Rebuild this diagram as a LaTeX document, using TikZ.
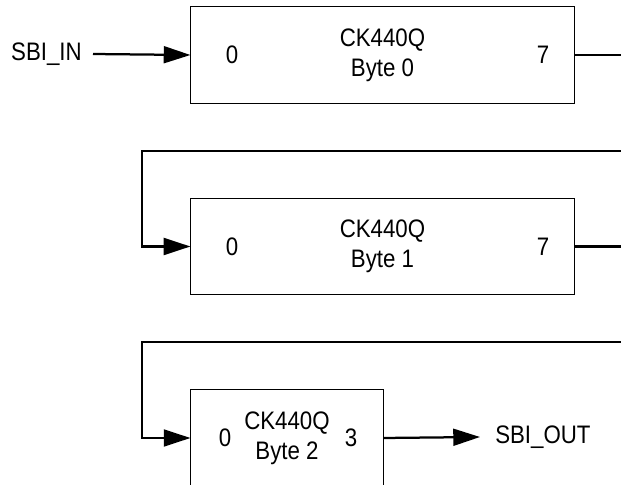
\documentclass[tikz,border=0pt]{standalone}
\usepackage{fontspec}
\setmainfont{Liberation Sans}[FakeStretch=0.88]
\usetikzlibrary{arrows.meta}
\begin{document}
\begin{tikzpicture}[x=0.025cm,y=-0.025cm,
		font=\fontsize{18}{21.3}\selectfont,
		reg/.style={draw,line width=0.7pt,minimum height=2.4cm,align=center,inner sep=0pt},
		wire/.style={line width=1.6pt},
		sig/.style={wire,-{Triangle[length=19pt,width=12pt]}}]
		\useasboundingbox (0,0) rectangle (621,485);
		
		% byte 0
		\node[reg,minimum width=9.575cm] (b0) at (382.5,55) {CK440Q\\Byte 0};
		\node (b0in) at (232,55) {0};
		\node (b0out) at (543,55) {7};
		\node[anchor=east,inner sep=0pt] (sin) at (82,54) {SBI\_IN};
		\coordinate (e0) at (621,55);
		\draw [sig] (sin.east) ++(11,0) -- (b0.west);
		\draw [wire] (b0.east) -- (e0);
		
		% byte 1
		\node[reg,minimum width=9.575cm] (b1) at (382.5,246.5) {CK440Q\\Byte 1};
		\node (b1in) at (232,246.5) {0};
		\node (b1out) at (543,246.5) {7};
		\coordinate (s1) at (621,151);
		\coordinate (k1) at (142,151);
		\coordinate (e1) at (621,246.5);
		\draw [sig] (s1) -- (k1) |- (b1.west);
		\draw [wire] (b1.east) -- (e1);
		
		% byte 2
		\node[reg,minimum width=4.8cm] (b2) at (287,438) {CK440Q\\Byte 2};
		\node (b2in) at (225,438) {0};
		\node (b2out) at (351,438) {3};
		\node[anchor=west,inner sep=0pt] (sout) at (495,437) {SBI\_OUT};
		\coordinate (s2) at (621,342);
		\coordinate (k2) at (142,342);
		\draw [sig] (s2) -- (k2) |- (b2.west);
		\draw [sig] (b2.east) -- ([xshift=-15*0.025cm]sout.west);
\end{tikzpicture}
\end{document}
